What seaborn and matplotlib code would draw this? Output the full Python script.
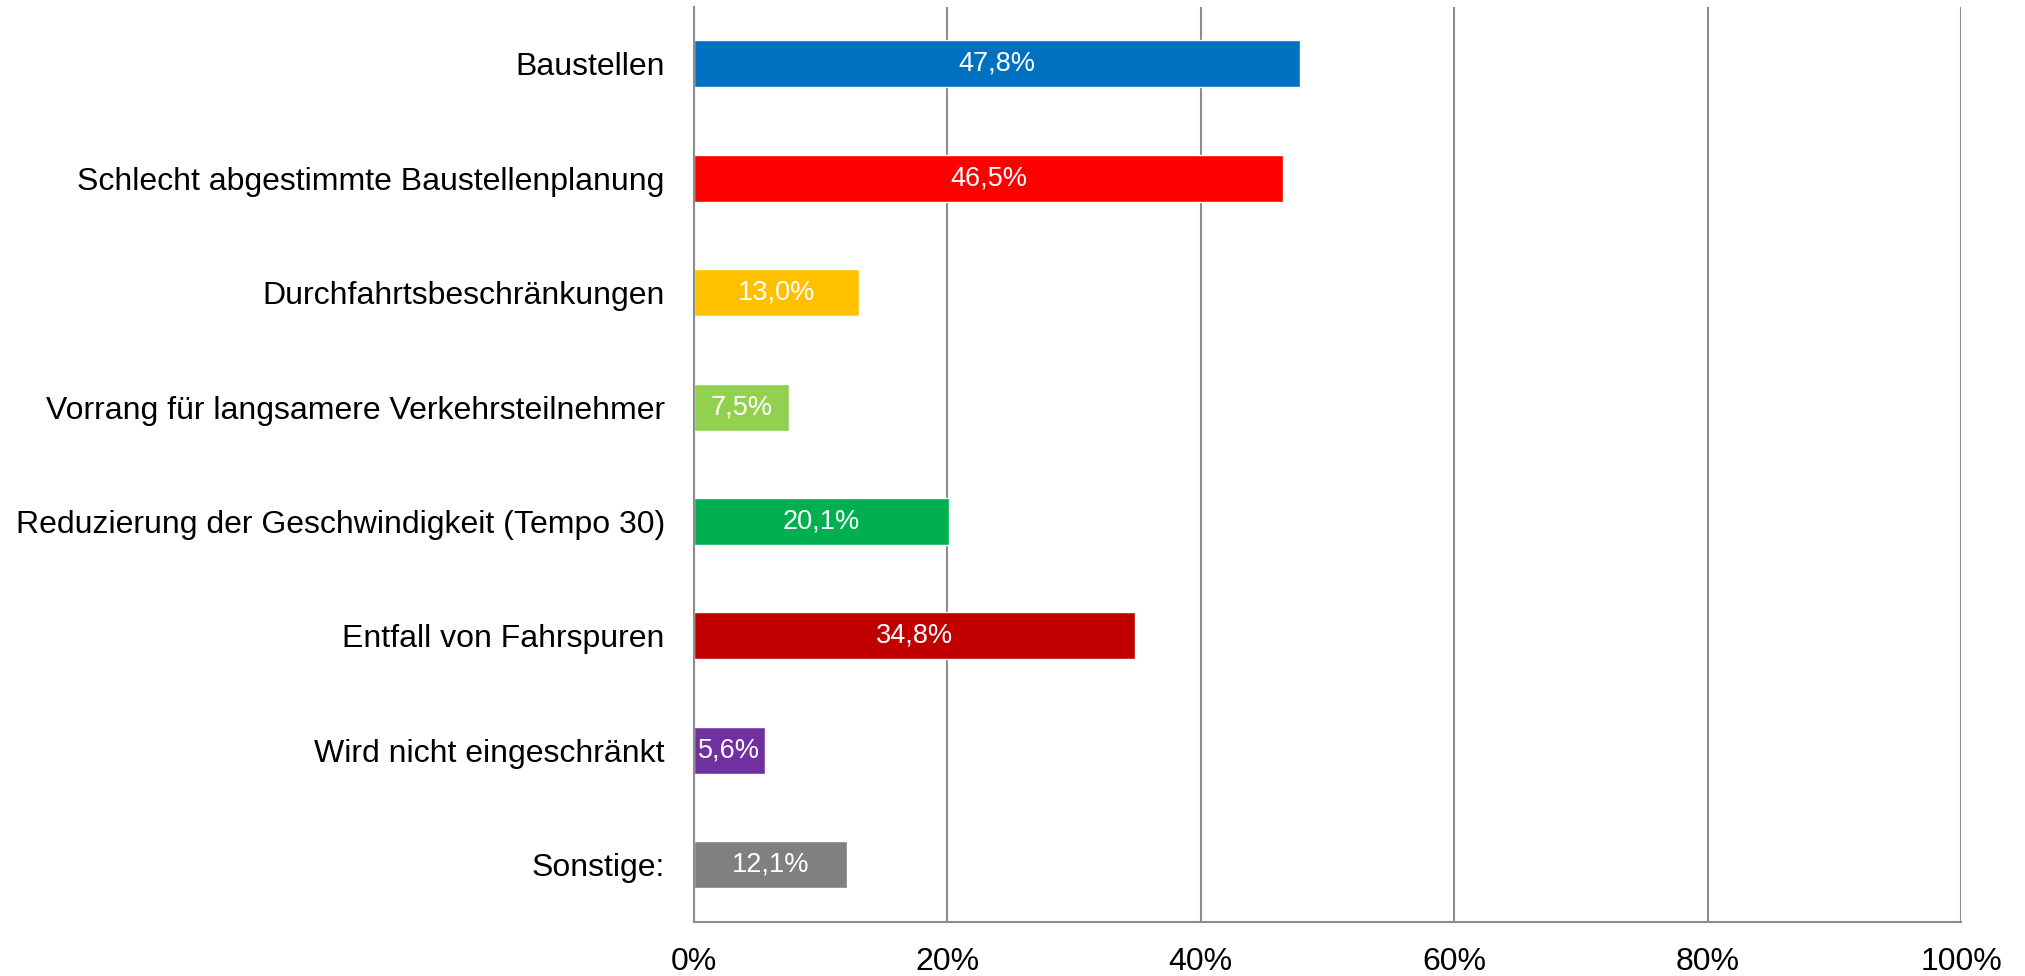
import pandas as pd
import seaborn as sns
from matplotlib import pyplot as plt

categories = ["Baustellen", "Schlecht abgestimmte Baustellenplanung", "Durchfahrtsbeschränkungen",
              "Vorrang für langsamere Verkehrsteilnehmer", "Reduzierung der Geschwindigkeit (Tempo 30)",
              "Entfall von Fahrspuren", "Wird nicht eingeschränkt", "Sonstige:"]
values = [47.8, 46.5, 13.0, 7.5, 20.1, 34.8, 5.6, 12.1]
colors = ["#0070C0", "#FF0000", "#FFC000", "#92D050", "#00B050", "#C00000", "#7030A0", "#808080"]
xticks = [0, 20, 40, 60, 80, 100]

sns.set_style("white")
plt.rcParams["font.family"] = ["Liberation Sans", "DejaVu Sans"]

df = pd.DataFrame({"cat": categories, "val": values})

fig = plt.figure(figsize=(20.25, 9.76), dpi=100)
ax = fig.add_axes([0.3427, 0.0553, 0.9684 - 0.3427, 0.9933 - 0.0553])
sns.barplot(data=df, y="cat", x="val", hue="cat", palette=colors, orient="h",
            width=0.41, legend=False, saturation=1, ax=ax)

for c in ax.containers:
    ax.bar_label(c, labels=[f"{v:.1f}%".replace(".", ",") for v in c.datavalues],
                 label_type="center", color="white", fontsize=19.5)

ax.set_xlim(0, 100)
ax.set_ylim(len(categories) - 0.5, -0.5)
ax.set_xticks(xticks)
ax.set_xticklabels([f"{t}%" for t in xticks])
ax.set_xlabel("")
ax.set_ylabel("")
ax.xaxis.grid(True, color="#8c8c8c", linewidth=1.5)
ax.set_axisbelow(True)
for s in ["top", "right"]:
    ax.spines[s].set_visible(False)
for s in ["left", "bottom"]:
    ax.spines[s].set_color("#8c8c8c")
    ax.spines[s].set_linewidth(1.5)
ax.tick_params(axis="x", length=0, pad=18, labelsize=23, labelcolor="black")
ax.tick_params(axis="y", length=0, pad=21, labelsize=23, labelcolor="black")

fig.savefig("out.png", dpi=100)
